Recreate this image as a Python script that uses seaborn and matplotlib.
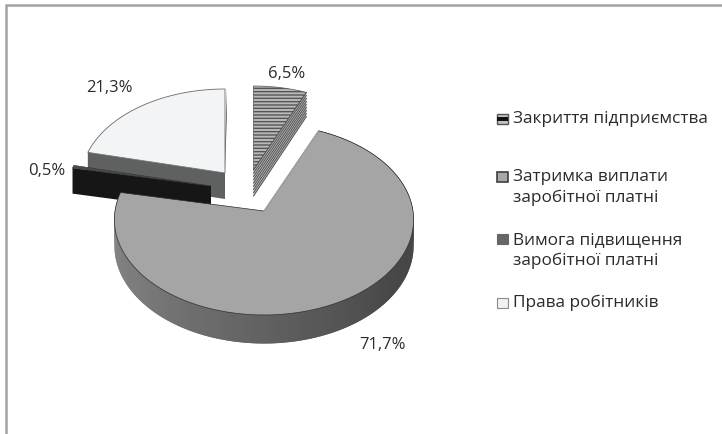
import numpy as np
import seaborn as sns
import matplotlib.pyplot as plt
from matplotlib.patches import Rectangle

# Slice values, clockwise from 12 o'clock
values = [6.5, 71.7, 0.5, 21.3]
value_labels = ["6,5%", "71,7%", "0,5%", "21,3%"]
legend_labels = ["Закриття підприємства", "Затримка виплати\nзаробітної платні",
                 "Вимога підвищення\nзаробітної платні", "Права робітників"]

sns.set_theme(style="white")
plt.rcParams["font.family"] = ["Open Sans", "DejaVu Sans"]
plt.rcParams["hatch.linewidth"] = 1.0

# Fake 3D: a tilted disc through a small perspective, axes are in image pixels
RX, RY, PERSP, DEPTH = 149, 94.6, 0.09, 26


def project(angle, apex, radius=1.0):
    u = radius * np.sin(angle)
    v = radius * np.cos(angle)
    s = 1 / (1 + PERSP * v)
    return apex[0] + RX * u * s, apex[1] - RY * v * s, s


def face(a0, a1, apex, radius=1.0):
    t = np.linspace(a0, a1, 240)
    x, y, _ = project(t, apex, radius)
    return np.r_[apex[0], x], np.r_[apex[1], y]


def radial_side(a, apex, radius=1.0):
    x, y, s = project(a, apex, radius)
    return ([apex[0], x, x, apex[0]],
            [apex[1], y, y + DEPTH * s, apex[1] + DEPTH])


fig = plt.figure(figsize=(7.22, 4.34), dpi=100)
ax = fig.add_axes([0, 0, 1, 1])
ax.set_xlim(0, 722)
ax.set_ylim(434, 0)
ax.axis("off")

# chart frame runs off the right and bottom of the picture
ax.plot([6, 6, 722], [434, 5, 5], color="#a3a3a3", lw=1.8, solid_joinstyle="miter")

edges = np.cumsum([0] + values) / sum(values) * 2 * np.pi
SMALL = 0.965  # the exploded slices read a little smaller than the main one

# Права робітників
apex = (225, 173)
a0, a1 = edges[3], edges[4]
x, y = radial_side(a0, apex, SMALL)
ax.fill(x, y, color="#5f6160", lw=0)
tx, ty, ts = project(a1, apex, SMALL)
ax.fill([apex[0] - 1, tx + 2, tx + 2, apex[0] - 1],
        [apex[1], ty, ty + DEPTH * ts, apex[1] + DEPTH], color="#5f6160", lw=0)
x, y = face(a0, a1, apex, SMALL)
ax.fill(x, y, facecolor="#f3f4f6", edgecolor="#6a6a6a", lw=0.6)

# Закриття (hatched slice)
apex = (253.5, 170)
a0, a1 = edges[0], edges[1]
sx, sy = radial_side(a1, apex, SMALL)
ax.fill(sx, sy, color="#c4c4c4", lw=0)
for f in np.linspace(0, 1, 9):
    ax.plot([sx[0], sx[1]], [sy[0] + DEPTH * f, sy[1] + (sy[2] - sy[1]) * f],
            color="#5a5a5a", lw=0.8)
x, y = face(a0, a1, apex, SMALL)
ax.fill(x, y, facecolor="#b9b9b9", edgecolor="#555555", hatch="-----", lw=0.5)

# Вимога (black sliver)
apex = (211, 186)
a0, a1 = edges[2], edges[3]
x, y = radial_side(a0, apex, SMALL)
ax.fill(x, y, color="#161616", lw=0)
x, y = face(a0, a1, apex, SMALL)
ax.fill(x, y, facecolor="#4a4a4a", edgecolor="#333333", lw=0.4)

# Затримка (main slice): rim gradient first, then the top face
apex = (264, 211)
a0, a1 = edges[1], edges[2]
n_rim = 160
t = np.linspace(a1, a0, n_rim + 1)
rim = sns.blend_palette(["#8a8a8a", "#7a7a7a", "#5f605f", "#474847", "#424242", "#404040"], n_rim)
rx, ry, rs = project(t, apex)
for i in range(n_rim):
    # each quad runs one step past its neighbour so no seams show
    j = min(i + 2, n_rim)
    ax.fill([rx[i], rx[j], rx[j], rx[i]],
            [ry[i], ry[j], ry[j] + DEPTH * rs[j], ry[i] + DEPTH * rs[i]],
            color=rim[i], lw=0)
x, y = face(a0, a1, apex)
ax.fill(x, y, facecolor="#a5a5a5", edgecolor="#2a2a2a", lw=0.5)
ax.plot([apex[0], x[1]], [apex[1], y[1]], color="#a5a5a5", lw=0.9)

# Data labels
text_color = "#2b2b2b"
label_pos = [(287, 74), (382, 345), (47, 171), (109, 88)]
for lab, (lx, ly) in zip(value_labels, label_pos):
    ax.text(lx, ly, lab, ha="center", va="center", fontsize=12, color=text_color)

# Legend, spacing is uneven in the original so it is placed by hand
swatch_y = [119, 177, 239, 303]
text_y = [119, 187.5, 250.5, 303]
for i, lab in enumerate(legend_labels):
    yy = swatch_y[i]
    if i == 0:
        ax.add_patch(Rectangle((497, yy - 5), 11, 10, fc="#c4c4c4", ec="#555555", lw=1))
        ax.add_patch(Rectangle((497, yy - 2), 11, 3.5, fc="#111111", lw=0))
    elif i == 1:
        ax.add_patch(Rectangle((497, yy - 5), 11, 10, fc="#a8a8a8", ec="#3f3f3f", lw=1.2))
    elif i == 2:
        ax.add_patch(Rectangle((497, yy - 5), 11, 10, fc="#666666", ec="#666666", lw=0.8))
    else:
        ax.add_patch(Rectangle((497, yy - 5), 11, 10, fc="#f0f1f3", ec="#8a8a8a", lw=0.8))
    ax.text(513, text_y[i], lab, ha="left", va="center", fontsize=12.4,
            color=text_color, linespacing=1.42)

fig.savefig("out.png", dpi=100)
